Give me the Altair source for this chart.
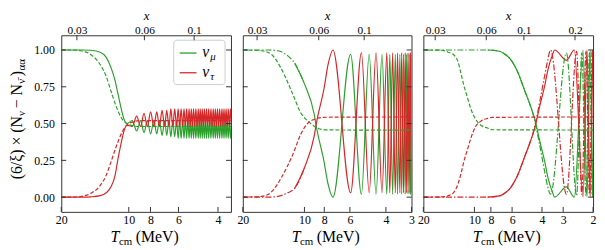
import altair as alt
import pandas as pd

FONT = "Liberation Serif"
GREEN = "#2ca02c"
RED = "#d62728"
FRAME = "#333333"
ME = 0.511  # x = m_e / T

H = 179
Y_DOMAIN = [-0.1, 1.1]
Y_TICKS = [0.0, 0.25, 0.5, 0.75, 1.0]

# ---------------- panel 1 ----------------
p1_T_solid = [20, 16, 14.8, 13.4, 12.6, 12.0, 11.5, 11.2, 10.8, 10.5, 10.2,
              9.65, 9.22, 8.85, 8.55, 8.26, 7.99, 7.73, 7.50, 7.30, 7.10,
              6.92, 6.77, 6.62, 6.49, 6.36, 6.24, 6.12, 6.02, 5.93, 5.84,
              5.75, 5.67, 5.59, 5.52, 5.45, 5.38, 5.32, 5.26, 5.20, 5.14,
              5.08, 5.02, 4.96, 4.90, 4.85, 4.80, 4.75, 4.70, 4.65, 4.60,
              4.55, 4.50, 4.45, 4.40, 4.35, 4.30, 4.25, 4.20, 4.155, 4.11,
              4.065, 4.02, 3.975, 3.93, 3.885, 3.84, 3.80, 3.76, 3.72, 3.68,
              3.64, 3.60, 3.56, 3.52, 3.48]
p1_green_solid = [1.0, 1.0, 0.998, 0.985, 0.95, 0.88, 0.79, 0.71, 0.60, 0.53, 0.50,
                  0.52, 0.45, 0.52, 0.44, 0.52, 0.43, 0.52, 0.43, 0.52, 0.42,
                  0.52, 0.42, 0.52, 0.41, 0.52, 0.41, 0.52, 0.40, 0.52, 0.40,
                  0.52, 0.40, 0.52, 0.40, 0.52, 0.40, 0.52, 0.40, 0.52, 0.40,
                  0.52, 0.40, 0.52, 0.40, 0.52, 0.40, 0.52, 0.40, 0.52, 0.40,
                  0.52, 0.40, 0.52, 0.40, 0.52, 0.40, 0.52, 0.40, 0.52, 0.40,
                  0.52, 0.40, 0.52, 0.40, 0.52, 0.40, 0.52, 0.40, 0.52, 0.40,
                  0.52, 0.40, 0.52, 0.40, 0.52]
p1_red_solid = [0.0, 0.0, 0.002, 0.01, 0.03, 0.07, 0.15, 0.25, 0.37, 0.45, 0.49,
                0.48, 0.55, 0.48, 0.57, 0.48, 0.58, 0.48, 0.58, 0.48, 0.59,
                0.48, 0.59, 0.48, 0.60, 0.48, 0.60, 0.48, 0.60, 0.48, 0.60,
                0.48, 0.60, 0.48, 0.60, 0.48, 0.60, 0.48, 0.60, 0.48, 0.60,
                0.48, 0.60, 0.48, 0.60, 0.48, 0.60, 0.48, 0.60, 0.48, 0.60,
                0.48, 0.60, 0.48, 0.60, 0.48, 0.60, 0.48, 0.60, 0.48, 0.60,
                0.48, 0.60, 0.48, 0.60, 0.48, 0.60, 0.48, 0.60, 0.48, 0.60,
                0.48, 0.60, 0.48, 0.60, 0.48]
p1_T_dash = [20, 17, 16.3, 14.8, 13.4, 12.6, 12.0, 11.4, 10.8, 10.2, 9.6, 9.0, 3.5]
p1_green_dash = [1.0, 0.999, 0.995, 0.97, 0.90, 0.82, 0.72, 0.62, 0.54, 0.50, 0.485, 0.48, 0.48]
p1_red_dash = [0.0, 0.001, 0.005, 0.025, 0.08, 0.15, 0.24, 0.34, 0.43, 0.49, 0.51, 0.52, 0.52]

# ---------------- panel 2 ----------------
p2_T_dd = [20, 15, 13.5, 12.05, 11.16, 10.0]
p2_green_dd = [1.0, 1.0, 0.995, 0.96, 0.91, 0.77]
p2_red_dd = [0.0, 0.0, 0.005, 0.03, 0.06, 0.2]
p2_T_solid = [11.16, 10.0, 8.95, 8.75, 8.02, 7.67, 7.26, 5.95, 5.27, 4.83, 4.47, 4.18, 3.96,
              3.83, 3.71, 3.60, 3.51, 3.42, 3.35, 3.28, 3.22, 3.17, 3.12, 3.08, 3.04, 3.00]
p2_green_solid = [0.91, 0.77, 0.56, 0.48, 0.24, 0.09, 0.0, 0.97, 0.02, 0.97, 0.02, 0.97, 0.02,
                  0.97, 0.02, 0.97, 0.02, 0.97, 0.02, 0.97, 0.02, 0.97, 0.02, 0.97, 0.02, 0.97]
p2_red_solid = [0.06, 0.2, 0.42, 0.5, 0.74, 0.9, 1.0, 0.03, 0.98, 0.03, 0.98, 0.03, 0.98,
                0.03, 0.98, 0.03, 0.98, 0.03, 0.98, 0.03, 0.98, 0.03, 0.98, 0.03, 0.98, 0.03]
p2_T_dash = [20, 16.2, 14.5, 13.0, 11.4, 10.4, 9.66, 8.66, 7.8, 3.0]
p2_green_dash = [1.0, 0.995, 0.97, 0.875, 0.70, 0.57, 0.52, 0.47, 0.457, 0.455]
p2_red_dash = [0.0, 0.005, 0.035, 0.13, 0.29, 0.43, 0.50, 0.535, 0.543, 0.545]

# ---------------- panel 3 ----------------
p3_T_dash = [20, 15.5, 14.3, 13.2, 12.5, 12.0, 11.55, 10.95, 10.5, 9.84, 9.2, 8.38, 7.84, 2.0]
p3_green_dash = [1.0, 0.998, 0.985, 0.966, 0.92, 0.84, 0.76, 0.67, 0.60, 0.53, 0.49, 0.47, 0.458, 0.456]
p3_red_dash = [0.0, 0.002, 0.01, 0.035, 0.09, 0.16, 0.24, 0.33, 0.40, 0.48, 0.515, 0.535, 0.542, 0.545]
p3_T_dd = [20, 8.38, 7.04, 6.58, 6.16, 5.61, 5.04, 4.71, 4.41, 4.12, 3.85, 3.70, 3.56,
           2.87, 2.50, 2.33, 2.20, 2.10, 2.03]
p3_green_dd = [1.0, 1.0, 0.99, 0.97, 0.94, 0.86, 0.72, 0.63, 0.52, 0.35, 0.17, 0.07, 0.02,
               0.98, 0.01, 0.98, 0.01, 0.98, 0.01]
p3_red_dd = [0.0, 0.0, 0.01, 0.03, 0.06, 0.14, 0.28, 0.37, 0.48, 0.65, 0.83, 0.93, 1.0,
             0.02, 0.99, 0.02, 0.99, 0.02, 0.99]
p3_T_solid = [8.38, 7.04, 6.58, 6.16, 5.61, 5.04, 4.71, 4.41, 4.12, 3.85, 3.70, 3.46, 3.37,
              2.87, 2.58, 2.29, 2.17, 2.08, 2.01]
p3_green_solid = [1.0, 0.99, 0.97, 0.94, 0.86, 0.72, 0.63, 0.53, 0.38, 0.24, 0.14, 0.03, 0.0,
                  0.07, 0.0, 1.0, 0.0, 1.0, 0.0]
p3_red_solid = [0.0, 0.01, 0.03, 0.06, 0.14, 0.28, 0.37, 0.47, 0.62, 0.76, 0.86, 0.97, 1.0,
                0.93, 1.0, 0.0, 1.0, 0.0, 1.0]

# axis ticks
p1_T_ticks = [20, 10, 8, 6, 4]
p2_T_ticks = [20, 10, 8, 6, 4, 3]
p3_T_ticks = [20, 10, 8, 6, 4, 3, 2]
p12_x_ticks = [0.03, 0.06, 0.1]
p3_x_ticks = [0.03, 0.06, 0.1, 0.2]

one = pd.DataFrame({"k": [0]})

DASH = [4, 2]
DASHDOT = [6, 2, 1.5, 2]
NB = "\u00a0"


def txt(s, x, y, size=16, style="normal", angle=None):
    kw = dict(text=s, font=FONT, fontSize=size, fontStyle=style, align="left",
              baseline="alphabetic", color="black")
    if angle is not None:
        kw["angle"] = angle
    return alt.Chart(one).mark_text(**kw).encode(x=alt.value(x), y=alt.value(y))


def panel(W, tmin, tticks, xticks, curves, show_y=False, legend=False):
    xscale = alt.Scale(type="log", domain=[tmin, 20], reverse=True, nice=False)
    xaxis = alt.Axis(values=tticks, format="d", ticks=False, tickSize=0, domain=False,
                     grid=False, labelFont=FONT, labelFontSize=12, labelColor="black",
                     labelPadding=3, labelFlush=False, labelOverlap=False, title=None)
    yscale = alt.Scale(domain=Y_DOMAIN, nice=False, zero=False)
    if show_y:
        yaxis = alt.Axis(values=Y_TICKS, format=".2f", ticks=False, tickSize=0, domain=False,
                         grid=False, labelFont=FONT, labelFontSize=12, labelColor="black",
                         labelPadding=7, title=None)
    else:
        yaxis = None
    xenc = alt.X("T:Q", scale=xscale, axis=xaxis)
    yenc = alt.Y("v:Q", scale=yscale, axis=yaxis)

    layers = []
    for T, v, color, dash in curves:
        kw = dict(color=color, strokeWidth=1.2, clip=True, interpolate="monotone")
        if dash is not None:
            kw["strokeDash"] = dash
        layers.append(alt.Chart(pd.DataFrame({"T": T, "v": v})).mark_line(**kw)
                      .encode(x=xenc, y=yenc))

    # inward ticks
    tdf = pd.DataFrame({"T": tticks})
    layers.append(alt.Chart(tdf).mark_rule(color=FRAME, strokeWidth=1)
                  .encode(x=xenc, y=alt.value(H), y2=alt.value(H - 5)))
    ydf = pd.DataFrame({"v": Y_TICKS})
    layers.append(alt.Chart(ydf).mark_rule(color=FRAME, strokeWidth=1)
                  .encode(y=yenc, x=alt.value(0), x2=alt.value(5)))
    layers.append(alt.Chart(ydf).mark_rule(color=FRAME, strokeWidth=1)
                  .encode(y=yenc, x=alt.value(W - 5), x2=alt.value(W)))

    # bottom title  T_cm (MeV)
    s = W / 2 - 36
    layers.append(txt("T", s, 209.5, 16, "italic"))
    layers.append(txt("cm", s + 8.5, 213, 11))
    layers.append(txt("(MeV)", s + 25.5, 209.5, 16))

    if show_y:
        xb = -40
        xs = -36.5
        y0 = 146
        main_title = "(6/\u03be)" + NB + "\u00d7" + NB + "(N" + NB + NB + "\u2212" + NB + "N" + NB + NB + ")"
        layers.append(txt(main_title, xb, y0, 16, angle=270))
        layers.append(txt("\u03bd", xs, y0 - 64.3, 11, angle=270))
        layers.append(txt("\u03bd\u0304", xs, y0 - 96.9, 11, angle=270))
        layers.append(txt("\u03b1\u03b1", xs, y0 - 110.4, 11, angle=270))

    if legend:
        layers.append(alt.Chart(one).mark_rect(fill="white", stroke="#cccccc", strokeWidth=1,
                                               cornerRadius=3)
                      .encode(x=alt.value(114), x2=alt.value(166),
                              y=alt.value(5), y2=alt.value(50)))
        layers.append(alt.Chart(one).mark_rule(color=GREEN, strokeWidth=1.3)
                      .encode(x=alt.value(120), x2=alt.value(137), y=alt.value(18)))
        layers.append(alt.Chart(one).mark_rule(color=RED, strokeWidth=1.3)
                      .encode(x=alt.value(120), x2=alt.value(137), y=alt.value(38)))
        layers.append(txt("\u03bd", 143, 22, 16, "italic"))
        layers.append(txt("\u03bc", 151, 25, 11, "italic"))
        layers.append(txt("\u03bd", 143, 42, 16, "italic"))
        layers.append(txt("\u03c4", 151, 45, 11, "italic"))

    main = alt.layer(*layers)

    topscale = alt.Scale(type="log", domain=[ME / 20, ME / tmin], nice=False)
    topaxis = alt.Axis(orient="top", values=xticks, format="~g", ticks=False, tickSize=0,
                       domain=False, grid=False, labelFont=FONT, labelFontSize=11.5,
                       labelColor="black", labelPadding=0, labelFlush=False,
                       labelOverlap=False, title="x", titleFont=FONT, titleFontSize=13,
                       titleFontStyle="italic", titleFontWeight="normal", titleColor="black",
                       titleBaseline="alphabetic", titleY=-15.5)
    top = alt.Chart(pd.DataFrame({"xv": xticks})).mark_rule(color=FRAME, strokeWidth=1).encode(
        x=alt.X("xv:Q", scale=topscale, axis=topaxis), y=alt.value(0), y2=alt.value(5))

    return alt.layer(main, top).resolve_scale(x="independent").properties(width=W, height=H)


c1 = [
    (p1_T_solid, p1_green_solid, GREEN, None),
    (p1_T_solid, p1_red_solid, RED, None),
    (p1_T_dash, p1_green_dash, GREEN, DASH),
    (p1_T_dash, p1_red_dash, RED, DASH),
]
c2 = [
    (p2_T_solid, p2_green_solid, GREEN, None),
    (p2_T_solid, p2_red_solid, RED, None),
    (p2_T_dd, p2_green_dd, GREEN, DASHDOT),
    (p2_T_dd, p2_red_dd, RED, DASHDOT),
    (p2_T_dash, p2_green_dash, GREEN, DASH),
    (p2_T_dash, p2_red_dash, RED, DASH),
]
c3 = [
    (p3_T_solid, p3_green_solid, GREEN, None),
    (p3_T_solid, p3_red_solid, RED, None),
    (p3_T_dd, p3_green_dd, GREEN, DASHDOT),
    (p3_T_dd, p3_red_dd, RED, DASHDOT),
    (p3_T_dash, p3_green_dash, GREEN, DASH),
    (p3_T_dash, p3_red_dash, RED, DASH),
]

chart = alt.hconcat(
    panel(172, 3.5, p1_T_ticks, p12_x_ticks, c1, show_y=True, legend=True),
    panel(171, 3.0, p2_T_ticks, p12_x_ticks, c2),
    panel(172, 2.0, p3_T_ticks, p3_x_ticks, c3),
    spacing=12, bounds="flush",
).configure_view(stroke=FRAME, strokeWidth=1).properties(
    padding={"left": 0, "top": 0, "right": 0, "bottom": 0}, background="white")

chart.save("out.html", embed_options={"renderer": "svg", "actions": False})
